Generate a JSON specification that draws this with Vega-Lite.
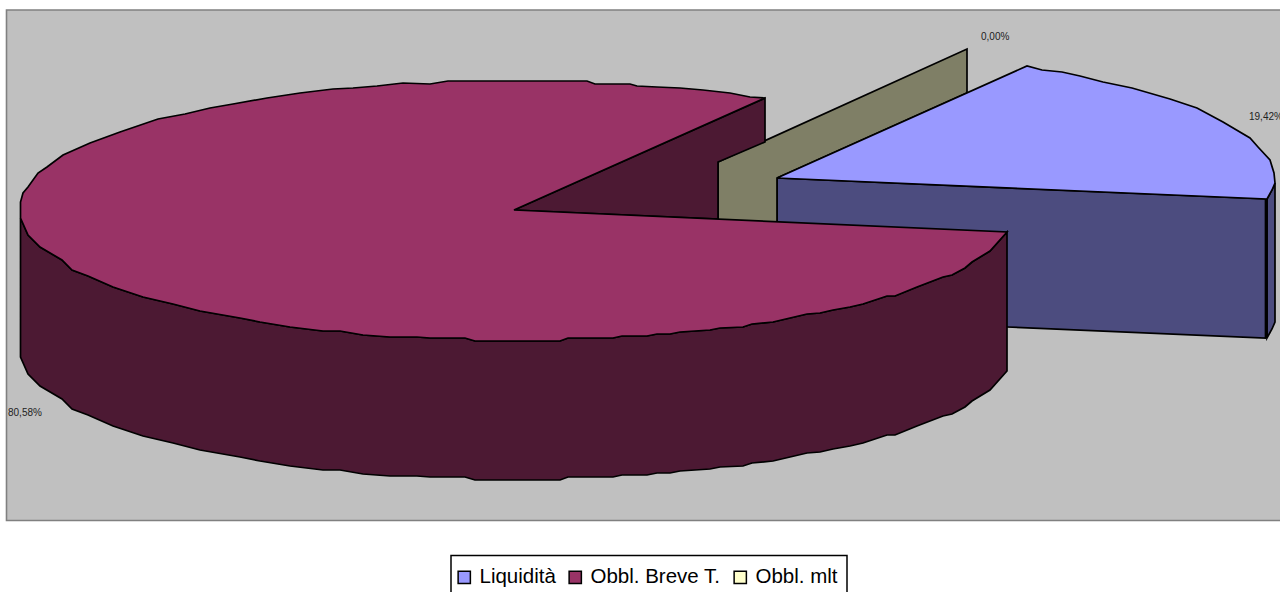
{"$schema":"https://vega.github.io/schema/vega-lite/v6.json","width":1280,"height":592,"padding":0,"autosize":{"type":"none"},"background":"white","view":{"stroke":null},
"config":{"font":"Liberation Sans"},
"datasets":{
"plotArea":[{"x":6.5,"x2":1295,"y":10,"y2":520.5}],
"legendBox":[{"x":451,"x2":847,"y":555.5,"y2":600}],
"slices":[{"label":"Liquidità","share":"19,42%","x":1249,"y":117},{"label":"Obbl. Breve T.","share":"80,58%","x":8,"y":413},{"label":"Obbl. mlt","share":"0,00%","x":981,"y":37}],
"blueArcSide":[{"i":1,"x":1267,"y":199},{"i":2,"x":1272,"y":190},{"i":3,"x":1275,"y":183},{"i":4,"x":1275,"y":322},{"i":5,"x":1272,"y":329},{"i":6,"x":1267,"y":338},{"i":7,"x":1267,"y":199}],
"blueFront":[{"i":1,"x":777,"y":178},{"i":2,"x":1265.5,"y":199},{"i":3,"x":1265.5,"y":338},{"i":4,"x":1007,"y":327},{"i":5,"x":777,"y":320},{"i":6,"x":777,"y":178}],
"blueEdge":[{"i":1,"x":1266.5,"y":199},{"i":2,"x":1266.5,"y":338}],
"blueTop":[{"i":1,"x":777,"y":178},{"i":2,"x":1027,"y":66},{"i":3,"x":1042,"y":70},{"i":4,"x":1062,"y":72},{"i":5,"x":1080,"y":76},{"i":6,"x":1103,"y":82},{"i":7,"x":1132,"y":88},{"i":8,"x":1170,"y":99},{"i":9,"x":1197,"y":108},{"i":10,"x":1223,"y":122},{"i":11,"x":1250,"y":138},{"i":12,"x":1258,"y":147},{"i":13,"x":1270,"y":160},{"i":14,"x":1274,"y":173},{"i":15,"x":1275,"y":183},{"i":16,"x":1272,"y":190},{"i":17,"x":1267,"y":199},{"i":18,"x":777,"y":178}],
"olive":[{"i":1,"x":718,"y":162},{"i":2,"x":967,"y":49},{"i":3,"x":967,"y":93},{"i":4,"x":777,"y":178},{"i":5,"x":777,"y":240},{"i":6,"x":718,"y":240},{"i":7,"x":718,"y":162}],
"wedgeWall":[{"i":1,"x":514,"y":210},{"i":2,"x":765,"y":98},{"i":3,"x":765,"y":142},{"i":4,"x":718,"y":162},{"i":5,"x":718,"y":219},{"i":6,"x":514,"y":210}],
"maroonSide":[{"i":1,"x":20.5,"y":218},{"i":2,"x":28,"y":235},{"i":3,"x":40,"y":247},{"i":4,"x":62,"y":260},{"i":5,"x":72,"y":270},{"i":6,"x":88,"y":276},{"i":7,"x":113,"y":287},{"i":8,"x":143,"y":297},{"i":9,"x":173,"y":304},{"i":10,"x":200,"y":311},{"i":11,"x":240,"y":318},{"i":12,"x":260,"y":322},{"i":13,"x":290,"y":327},{"i":14,"x":323,"y":331},{"i":15,"x":340,"y":331},{"i":16,"x":363,"y":335},{"i":17,"x":390,"y":337},{"i":18,"x":417,"y":337},{"i":19,"x":430,"y":338},{"i":20,"x":465,"y":338},{"i":21,"x":475,"y":341},{"i":22,"x":560,"y":341},{"i":23,"x":568,"y":338},{"i":24,"x":613,"y":338},{"i":25,"x":622,"y":336},{"i":26,"x":647,"y":336},{"i":27,"x":657,"y":334},{"i":28,"x":670,"y":334},{"i":29,"x":680,"y":332},{"i":30,"x":710,"y":330},{"i":31,"x":720,"y":328},{"i":32,"x":743,"y":327},{"i":33,"x":752,"y":324},{"i":34,"x":773,"y":322},{"i":35,"x":790,"y":318},{"i":36,"x":807,"y":314},{"i":37,"x":820,"y":313},{"i":38,"x":833,"y":310},{"i":39,"x":850,"y":307},{"i":40,"x":863,"y":304},{"i":41,"x":887,"y":296},{"i":42,"x":895,"y":296},{"i":43,"x":917,"y":287},{"i":44,"x":943,"y":277},{"i":45,"x":952,"y":275},{"i":46,"x":965,"y":268},{"i":47,"x":972,"y":262},{"i":48,"x":990,"y":251},{"i":49,"x":1007,"y":232},{"i":50,"x":1007,"y":371},{"i":51,"x":990,"y":390},{"i":52,"x":972,"y":401},{"i":53,"x":965,"y":407},{"i":54,"x":952,"y":414},{"i":55,"x":943,"y":416},{"i":56,"x":917,"y":426},{"i":57,"x":895,"y":435},{"i":58,"x":887,"y":435},{"i":59,"x":863,"y":443},{"i":60,"x":850,"y":446},{"i":61,"x":833,"y":449},{"i":62,"x":820,"y":452},{"i":63,"x":807,"y":453},{"i":64,"x":790,"y":457},{"i":65,"x":773,"y":461},{"i":66,"x":752,"y":463},{"i":67,"x":743,"y":466},{"i":68,"x":720,"y":467},{"i":69,"x":710,"y":469},{"i":70,"x":680,"y":471},{"i":71,"x":670,"y":473},{"i":72,"x":657,"y":473},{"i":73,"x":647,"y":475},{"i":74,"x":622,"y":475},{"i":75,"x":613,"y":477},{"i":76,"x":568,"y":477},{"i":77,"x":560,"y":480},{"i":78,"x":475,"y":480},{"i":79,"x":465,"y":477},{"i":80,"x":430,"y":477},{"i":81,"x":417,"y":476},{"i":82,"x":390,"y":476},{"i":83,"x":363,"y":474},{"i":84,"x":340,"y":470},{"i":85,"x":323,"y":470},{"i":86,"x":290,"y":466},{"i":87,"x":260,"y":461},{"i":88,"x":240,"y":457},{"i":89,"x":200,"y":450},{"i":90,"x":173,"y":443},{"i":91,"x":143,"y":436},{"i":92,"x":113,"y":426},{"i":93,"x":88,"y":415},{"i":94,"x":72,"y":409},{"i":95,"x":62,"y":399},{"i":96,"x":40,"y":386},{"i":97,"x":28,"y":374},{"i":98,"x":20.5,"y":357},{"i":99,"x":20.5,"y":218}],
"maroonTop":[{"i":1,"x":20.5,"y":218},{"i":2,"x":20.5,"y":202},{"i":3,"x":23,"y":193},{"i":4,"x":28,"y":187},{"i":5,"x":38,"y":173},{"i":6,"x":47,"y":167},{"i":7,"x":63,"y":155},{"i":8,"x":90,"y":143},{"i":9,"x":120,"y":132},{"i":10,"x":158,"y":119},{"i":11,"x":185,"y":114},{"i":12,"x":210,"y":108},{"i":13,"x":233,"y":104},{"i":14,"x":267,"y":98},{"i":15,"x":300,"y":93},{"i":16,"x":333,"y":89},{"i":17,"x":353,"y":88},{"i":18,"x":377,"y":86},{"i":19,"x":403,"y":83},{"i":20,"x":430,"y":84},{"i":21,"x":448,"y":81},{"i":22,"x":587,"y":81},{"i":23,"x":595,"y":84},{"i":24,"x":630,"y":84},{"i":25,"x":637,"y":86},{"i":26,"x":657,"y":87},{"i":27,"x":680,"y":88},{"i":28,"x":703,"y":90},{"i":29,"x":730,"y":93},{"i":30,"x":750,"y":97},{"i":31,"x":765,"y":98},{"i":32,"x":514,"y":210},{"i":33,"x":1007,"y":232},{"i":34,"x":990,"y":251},{"i":35,"x":972,"y":262},{"i":36,"x":965,"y":268},{"i":37,"x":952,"y":275},{"i":38,"x":943,"y":277},{"i":39,"x":917,"y":287},{"i":40,"x":895,"y":296},{"i":41,"x":887,"y":296},{"i":42,"x":863,"y":304},{"i":43,"x":850,"y":307},{"i":44,"x":833,"y":310},{"i":45,"x":820,"y":313},{"i":46,"x":807,"y":314},{"i":47,"x":790,"y":318},{"i":48,"x":773,"y":322},{"i":49,"x":752,"y":324},{"i":50,"x":743,"y":327},{"i":51,"x":720,"y":328},{"i":52,"x":710,"y":330},{"i":53,"x":680,"y":332},{"i":54,"x":670,"y":334},{"i":55,"x":657,"y":334},{"i":56,"x":647,"y":336},{"i":57,"x":622,"y":336},{"i":58,"x":613,"y":338},{"i":59,"x":568,"y":338},{"i":60,"x":560,"y":341},{"i":61,"x":475,"y":341},{"i":62,"x":465,"y":338},{"i":63,"x":430,"y":338},{"i":64,"x":417,"y":337},{"i":65,"x":390,"y":337},{"i":66,"x":363,"y":335},{"i":67,"x":340,"y":331},{"i":68,"x":323,"y":331},{"i":69,"x":290,"y":327},{"i":70,"x":260,"y":322},{"i":71,"x":240,"y":318},{"i":72,"x":200,"y":311},{"i":73,"x":173,"y":304},{"i":74,"x":143,"y":297},{"i":75,"x":113,"y":287},{"i":76,"x":88,"y":276},{"i":77,"x":72,"y":270},{"i":78,"x":62,"y":260},{"i":79,"x":40,"y":247},{"i":80,"x":28,"y":235},{"i":81,"x":20.5,"y":218}]
},
"encoding":{
"x":{"field":"x","type":"quantitative","scale":{"domain":[0,1280],"nice":false,"zero":false},"axis":null},
"y":{"field":"y","type":"quantitative","scale":{"domain":[0,592],"reverse":true,"nice":false,"zero":false},"axis":null},
"order":{"field":"i","type":"quantitative"}
},
"layer":[
{"data":{"name":"plotArea"},"mark":{"type":"rect","fill":"#C0C0C0","stroke":"#808080","strokeWidth":1.6},"encoding":{"x2":{"field":"x2"},"y2":{"field":"y2"},"order":{"value":0}}},
{"data":{"name":"legendBox"},"mark":{"type":"rect","fill":"white","stroke":"black","strokeWidth":1.5},"encoding":{"x2":{"field":"x2"},"y2":{"field":"y2"},"order":{"value":0}}},
{"data":{"name":"blueArcSide"},"mark":{"type":"line","fill":"#4C4C7F","stroke":"black","strokeWidth":1.7}},
{"data":{"name":"blueFront"},"mark":{"type":"line","fill":"#4C4C7F","stroke":"black","strokeWidth":1.7}},
{"data":{"name":"blueEdge"},"mark":{"type":"line","stroke":"black","strokeWidth":2.8}},
{"data":{"name":"olive"},"mark":{"type":"line","fill":"#7F7F66","stroke":"black","strokeWidth":1.7}},
{"data":{"name":"blueTop"},"mark":{"type":"line","fill":"#9999FF","stroke":"black","strokeWidth":1.7}},
{"data":{"name":"wedgeWall"},"mark":{"type":"line","fill":"#4C1933","stroke":"black","strokeWidth":1.7}},
{"data":{"name":"maroonSide"},"mark":{"type":"line","fill":"#4C1933","stroke":"black","strokeWidth":1.7}},
{"data":{"name":"maroonTop"},"mark":{"type":"line","fill":"#993366","stroke":"black","strokeWidth":1.7}},
{"data":{"name":"slices"},"mark":{"type":"text","font":"Liberation Sans","fontSize":10,"align":"left","baseline":"middle","fill":"#222222"},"encoding":{"text":{"field":"share"},"order":{"value":0}}},
{"data":{"name":"slices"},"mark":{"type":"point","shape":"square","filled":true,"opacity":0},"encoding":{"order":{"value":0},"color":{"field":"label","type":"nominal","sort":null,"scale":{"domain":["Liquidità","Obbl. Breve T.","Obbl. mlt"],"range":["#9999FF","#993366","#FFFFCC"]},"legend":{"title":null,"orient":"none","legendX":454,"legendY":567,"columns":3,"padding":0,"symbolType":"square","symbolSize":150,"symbolOpacity":1,"symbolStrokeColor":"black","symbolStrokeWidth":1.5,"labelFont":"Liberation Sans","labelFontSize":20.5,"labelColor":"black","labelOffset":5,"columnPadding":9,"labelLimit":300}}}}
]}
